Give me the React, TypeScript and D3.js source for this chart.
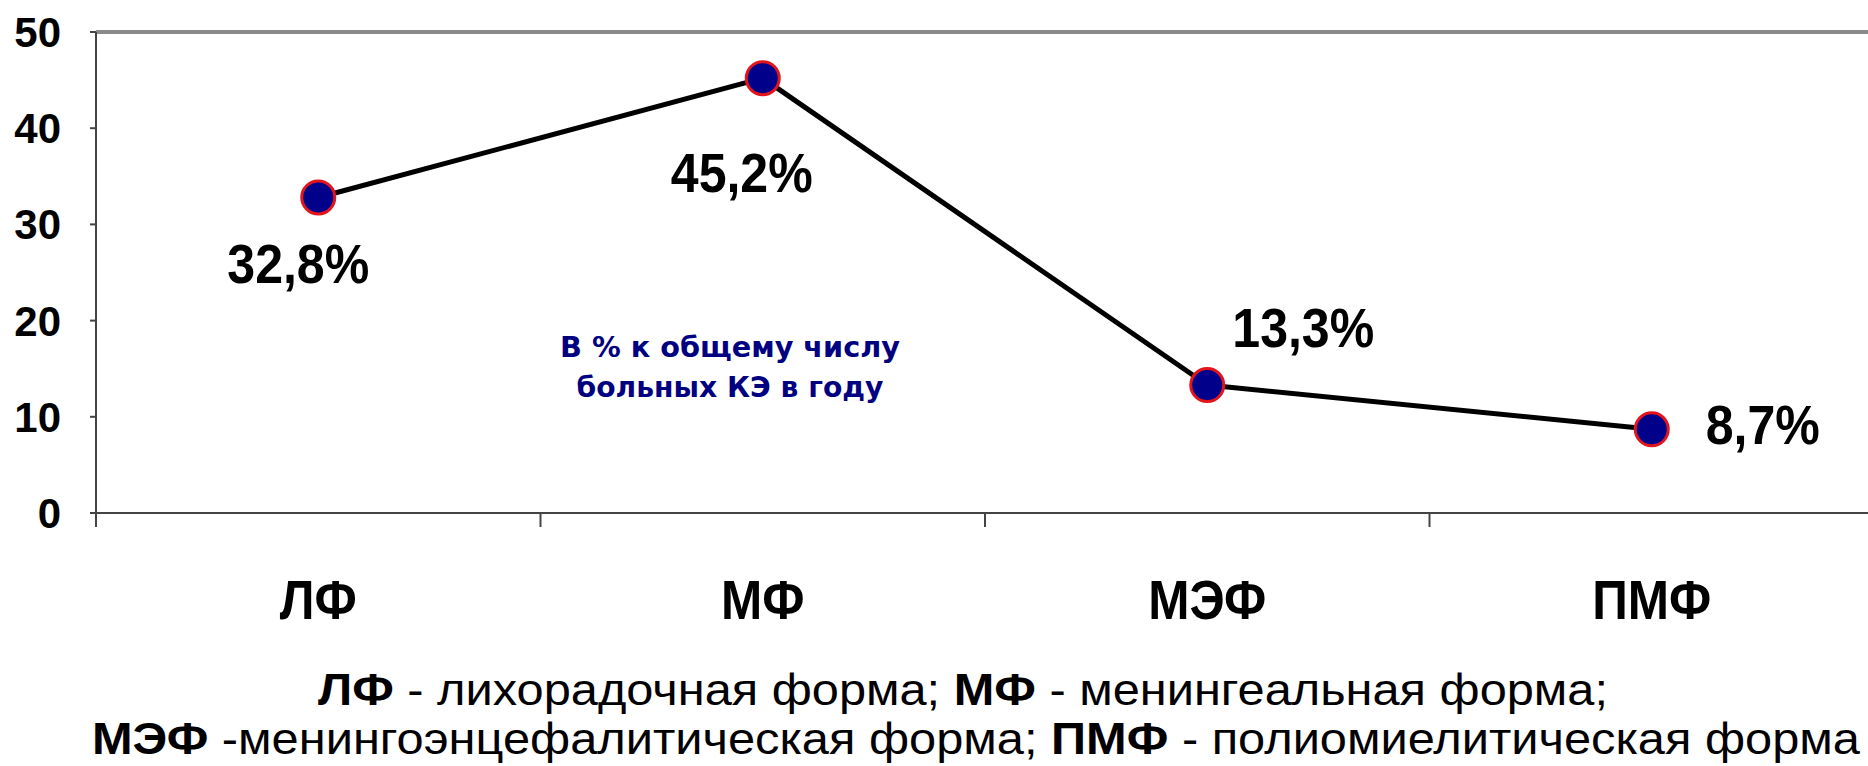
import React from "react";
import * as d3 from "d3";

// Clinical forms of tick-borne encephalitis, share of all cases per year (%)
const categories = ["ЛФ", "МФ", "МЭФ", "ПМФ"];
const values = [32.8, 45.2, 13.3, 8.7];
const valueLabels = ["32,8%", "45,2%", "13,3%", "8,7%"];
const yTicks = [0, 10, 20, 30, 40, 50];

// Manual placement of each value label relative to its marker (label centre / baseline)
const labelOffsets = [
  { dx: -20, dy: 86 },
  { dx: -21, dy: 114 },
  { dx: 96, dy: -38 },
  { dx: 111, dy: 15 },
];

const W = 1868;
const H = 766;
const plot = { left: 96, right: 1874, top: 32, bottom: 513 };

const BOLD = "'Liberation Sans', Arial, sans-serif";

export default function App() {
  const x = d3
    .scaleBand<string>()
    .domain(categories)
    .range([plot.left, plot.right])
    .padding(0);
  const y = d3.scaleLinear().domain([0, 50]).range([plot.bottom, plot.top]);

  const cx = (c: string) => (x(c) as number) + x.bandwidth() / 2;
  const pts = categories.map((c, i) => [cx(c), y(values[i])] as [number, number]);
  const line = d3.line()(pts) as string;

  const boundaries = categories.map((c) => x(c) as number);

  return (
    <svg
      width={W}
      height={H}
      style={{ position: "absolute", left: 0, top: 0, background: "#fff" }}
    >
      <rect x={0} y={0} width={W} height={H} fill="#fff" />

      {/* plot frame: top border */}
      <line
        x1={plot.left}
        x2={plot.right}
        y1={plot.top}
        y2={plot.top}
        stroke="#8a8a8a"
        strokeWidth={4}
      />

      {/* y axis */}
      <line
        x1={plot.left}
        x2={plot.left}
        y1={plot.top}
        y2={plot.bottom}
        stroke="#444"
        strokeWidth={2}
      />
      {yTicks.map((t) => (
        <g key={t}>
          <line
            x1={plot.left - 6}
            x2={plot.left}
            y1={y(t)}
            y2={y(t)}
            stroke="#444"
            strokeWidth={2}
          />
          <text
            x={61}
            y={y(t) + 15}
            textAnchor="end"
            fontFamily={BOLD}
            fontWeight="bold"
            fontSize={42}
            fill="#000"
          >
            {t}
          </text>
        </g>
      ))}

      {/* x axis */}
      <line
        x1={plot.left}
        x2={plot.right}
        y1={plot.bottom}
        y2={plot.bottom}
        stroke="#444"
        strokeWidth={2}
      />
      {boundaries.map((b, i) => (
        <line
          key={i}
          x1={b}
          x2={b}
          y1={plot.bottom}
          y2={plot.bottom + 14}
          stroke="#444"
          strokeWidth={2}
        />
      ))}
      {categories.map((c) => (
        <text
          key={c}
          transform={`translate(${cx(c)},619) scale(0.9,1)`}
          textAnchor="middle"
          fontFamily={BOLD}
          fontWeight="bold"
          fontSize={55}
          fill="#000"
        >
          {c}
        </text>
      ))}

      {/* series line and markers */}
      <path d={line} fill="none" stroke="#000" strokeWidth={5} strokeLinejoin="round" />
      {pts.map(([px, py], i) => (
        <circle
          key={i}
          cx={px}
          cy={py}
          r={16.5}
          fill="#00008a"
          stroke="#e3141c"
          strokeWidth={3}
        />
      ))}

      {/* value labels */}
      {pts.map(([px, py], i) => (
        <text
          key={i}
          transform={`translate(${px + labelOffsets[i].dx},${py + labelOffsets[i].dy}) scale(0.91,1)`}
          textAnchor="middle"
          fontFamily={BOLD}
          fontWeight="bold"
          fontSize={55}
          fill="#000"
        >
          {valueLabels[i]}
        </text>
      ))}

      {/* annotation */}
      <text
        x={730}
        y={357}
        textAnchor="middle"
        fontFamily="'DejaVu Sans', Verdana, sans-serif"
        fontWeight="bold"
        fontSize={28}
        fill="#000080"
        textLength={340}
        lengthAdjust="spacingAndGlyphs"
      >
        В % к общему числу
      </text>
      <text
        x={730}
        y={397}
        textAnchor="middle"
        fontFamily="'DejaVu Sans', Verdana, sans-serif"
        fontWeight="bold"
        fontSize={28}
        fill="#000080"
        textLength={307}
        lengthAdjust="spacingAndGlyphs"
      >
        больных КЭ в году
      </text>

      {/* legend of abbreviations */}
      <text
        x={318}
        y={705}
        fontFamily={BOLD}
        fontSize={44}
        fill="#000"
        textLength={1290}
        lengthAdjust="spacingAndGlyphs"
      >
        <tspan fontWeight="bold">ЛФ</tspan>
        <tspan> - лихорадочная форма; </tspan>
        <tspan fontWeight="bold">МФ</tspan>
        <tspan> - менингеальная форма;</tspan>
      </text>
      <text
        x={92}
        y={754}
        fontFamily={BOLD}
        fontSize={44}
        fill="#000"
        textLength={1768}
        lengthAdjust="spacingAndGlyphs"
      >
        <tspan fontWeight="bold">МЭФ</tspan>
        <tspan> -менингоэнцефалитическая форма; </tspan>
        <tspan fontWeight="bold">ПМФ</tspan>
        <tspan> - полиомиелитическая форма</tspan>
      </text>
    </svg>
  );
}
